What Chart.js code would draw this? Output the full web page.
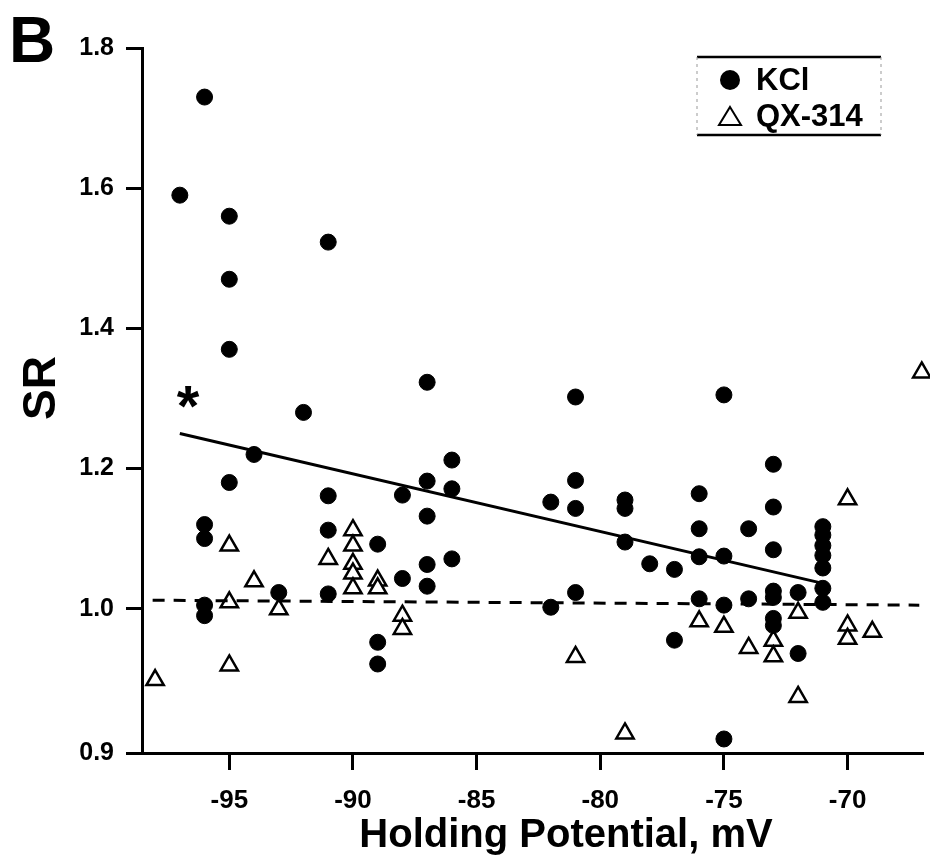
<!DOCTYPE html>
<html>
<head>
<meta charset="utf-8">
<script src="https://cdn.jsdelivr.net/npm/chart.js@4.4.1/dist/chart.umd.min.js"></script>
<style>
  body { margin: 0; background: #fff; }
  #chart { display: block; }
</style>
</head>
<body>
<canvas id="chart" width="930" height="863"></canvas>
<script>
// KCl recordings: holding potential (mV) and SR
const kclPotential = [-97, -96, -96, -96, -96, -96, -95, -95, -95, -95, -94, -93, -92,
  -91, -91, -91, -91, -89, -89, -89, -88, -88, -87, -87, -87, -87, -87, -86, -86, -86,
  -82, -82, -81, -81, -81, -81, -79, -79, -79, -78, -77, -77, -76, -76, -76, -76,
  -75, -75, -75, -75, -74, -74, -73, -73, -73, -73, -73, -73, -73, -72, -72,
  -71, -71, -71, -71, -71, -71, -71];
const kclSR = [1.59, 1.73, 1.12, 1.10, 1.005, 0.99, 1.56, 1.47, 1.37, 1.18, 1.22, 1.023, 1.28,
  1.523, 1.161, 1.112, 1.021, 1.092, 0.952, 0.921, 1.162, 1.043, 1.323, 1.182, 1.132, 1.063, 1.032, 1.212, 1.171, 1.071,
  1.152, 1.002, 1.302, 1.183, 1.143, 1.023, 1.155, 1.143, 1.095, 1.064, 1.056, 0.955, 1.164, 1.114, 1.074, 1.014,
  1.305, 1.075, 1.005, 0.814, 1.114, 1.014, 1.206, 1.145, 1.084, 1.025, 1.016, 0.986, 0.976, 1.023, 0.936,
  1.117, 1.105, 1.090, 1.076, 1.058, 1.029, 1.009];

// QX-314 recordings
const qxPotential = [-98, -95, -95, -95, -94, -93, -91, -90, -90, -90, -90, -90, -89, -89,
  -88, -88, -81, -79, -76, -75, -74, -73, -73, -72, -72, -70, -70, -70, -69, -67];
const qxSR = [0.898, 1.09, 1.009, 0.919, 1.039, 0.999, 1.071, 1.112, 1.090, 1.064, 1.050, 1.029, 1.040, 1.029,
  0.990, 0.971, 0.931, 0.822, 0.982, 0.974, 0.944, 0.954, 0.932, 0.994, 0.874, 1.156, 0.976, 0.957, 0.967, 1.337];

// regression lines
const kclFitX = [-97, -71];
const kclFitY = [1.25, 1.036];
const qxFitX = [-98.1, -67.1];
const qxFitY = [1.012, 1.005];

// axes
const xTicks = [-95, -90, -85, -80, -75, -70];
const yTickValues = [0.794, 1.0, 1.2, 1.4, 1.6, 1.8];
const yTickLabels = ['0.9', '1.0', '1.2', '1.4', '1.6', '1.8'];

const FONT = '"Liberation Sans", Arial, Helvetica, sans-serif';

const toPoints = (xs, ys) => xs.map((x, i) => ({ x: x, y: ys[i] }));

// titles, panel letter, asterisk and the boxed legend
const extras = {
  id: 'extras',
  afterDraw(chart) {
    const ctx = chart.ctx;
    ctx.save();
    ctx.fillStyle = '#000';
    ctx.strokeStyle = '#000';

    ctx.font = 'bold 64px ' + FONT;
    ctx.textAlign = 'left';
    ctx.textBaseline = 'alphabetic';
    ctx.fillText('B', 9, 62);

    ctx.font = 'bold 40px ' + FONT;
    ctx.textAlign = 'center';
    ctx.fillText('Holding Potential, mV', 566, 847);

    ctx.save();
    ctx.translate(42, 388);
    ctx.rotate(-Math.PI / 2);
    ctx.font = 'bold 46px ' + FONT;
    ctx.textBaseline = 'middle';
    ctx.fillText('SR', 0, 0);
    ctx.restore();

    ctx.font = 'bold 58px ' + FONT;
    ctx.textAlign = 'center';
    ctx.textBaseline = 'alphabetic';
    ctx.fillText('*', 188, 426);

    // legend box
    const lx = 697, ly = 57, lw = 184, lh = 78;
    ctx.lineWidth = 2.5;
    ctx.beginPath();
    ctx.moveTo(lx, ly); ctx.lineTo(lx + lw, ly);
    ctx.moveTo(lx, ly + lh); ctx.lineTo(lx + lw, ly + lh);
    ctx.stroke();
    ctx.lineWidth = 1;
    ctx.strokeStyle = '#999';
    ctx.setLineDash([3, 4]);
    ctx.beginPath();
    ctx.moveTo(lx, ly); ctx.lineTo(lx, ly + lh);
    ctx.moveTo(lx + lw, ly); ctx.lineTo(lx + lw, ly + lh);
    ctx.stroke();
    ctx.setLineDash([]);
    ctx.strokeStyle = '#000';

    ctx.beginPath();
    ctx.arc(730, 80, 10, 0, Math.PI * 2);
    ctx.fill();

    ctx.lineWidth = 2;
    ctx.beginPath();
    ctx.moveTo(730, 107);
    ctx.lineTo(741, 125);
    ctx.lineTo(719, 125);
    ctx.closePath();
    ctx.stroke();

    ctx.font = 'bold 31px ' + FONT;
    ctx.textAlign = 'left';
    ctx.textBaseline = 'middle';
    ctx.fillText('KCl', 756, 81);
    ctx.fillText('QX-314', 756, 117);
    ctx.restore();
  }
};

new Chart(document.getElementById('chart'), {
  type: 'scatter',
  data: {
    datasets: [
      {
        type: 'line',
        label: 'KCl fit',
        data: toPoints(kclFitX, kclFitY),
        borderColor: '#000',
        borderWidth: 3,
        pointRadius: 0,
        fill: false
      },
      {
        type: 'line',
        label: 'QX-314 fit',
        data: toPoints(qxFitX, qxFitY),
        borderColor: '#000',
        borderWidth: 3,
        borderDash: [12, 9],
        pointRadius: 0,
        fill: false
      },
      {
        label: 'KCl',
        data: toPoints(kclPotential, kclSR),
        pointStyle: 'circle',
        pointRadius: 8,
        backgroundColor: '#000',
        borderColor: '#000',
        borderWidth: 1,
        clip: false
      },
      {
        label: 'QX-314',
        data: toPoints(qxPotential, qxSR),
        pointStyle: 'triangle',
        pointRadius: 10,
        backgroundColor: '#fff',
        borderColor: '#000',
        borderWidth: 2.5,
        clip: false
      }
    ]
  },
  options: {
    responsive: false,
    animation: false,
    devicePixelRatio: 1,
    layout: { autoPadding: false, padding: { top: 48, right: 7, left: 0, bottom: 0 } },
    plugins: {
      legend: { display: false },
      tooltip: { enabled: false }
    },
    scales: {
      x: {
        type: 'linear',
        min: -98.53,
        max: -66.95,
        afterBuildTicks: (scale) => { scale.ticks = xTicks.map(v => ({ value: v })); },
        afterFit: (scale) => {
          scale.height = 110;
          scale.paddingLeft = 0;
          scale.paddingRight = 0;
        },
        border: { display: true, color: '#000', width: 3 },
        grid: { drawOnChartArea: false, color: '#000', tickLength: 17, tickWidth: 3, tickColor: '#000' },
        ticks: {
          color: '#000',
          padding: 15,
          maxRotation: 0,
          font: { family: FONT, size: 26, weight: 'bold' }
        }
      },
      y: {
        type: 'linear',
        min: 0.794,
        max: 1.8,
        afterBuildTicks: (scale) => { scale.ticks = yTickValues.map(v => ({ value: v })); },
        afterFit: (scale) => { scale.width = 142; },
        border: { display: true, color: '#000', width: 3 },
        grid: { drawOnChartArea: false, color: '#000', tickLength: 16, tickWidth: 3, tickColor: '#000' },
        ticks: {
          color: '#000',
          padding: 12,
          font: { family: FONT, size: 25, weight: 'bold' },
          callback: (value, index) => yTickLabels[index]
        }
      }
    }
  },
  plugins: [extras]
});
</script>
</body>
</html>
